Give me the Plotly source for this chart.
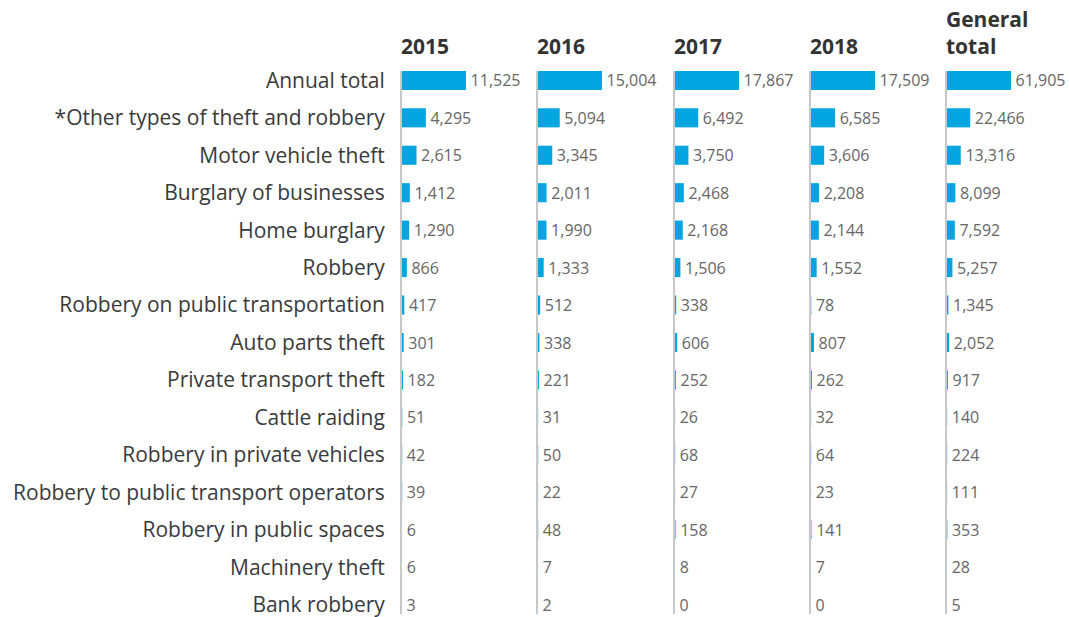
import plotly.graph_objects as go
from plotly.subplots import make_subplots

categories = [
    "Annual total",
    "*Other types of theft and robbery",
    "Motor vehicle theft",
    "Burglary of businesses",
    "Home burglary",
    "Robbery",
    "Robbery on public transportation",
    "Auto parts theft",
    "Private transport theft",
    "Cattle raiding",
    "Robbery in private vehicles",
    "Robbery to public transport operators",
    "Robbery in public spaces",
    "Machinery theft",
    "Bank robbery",
]

columns = ["2015", "2016", "2017", "2018", "General<br>total"]

v2015 = [11525, 4295, 2615, 1412, 1290, 866, 417, 301, 182, 51, 42, 39, 6, 6, 3]
v2016 = [15004, 5094, 3345, 2011, 1990, 1333, 512, 338, 221, 31, 50, 22, 48, 7, 2]
v2017 = [17867, 6492, 3750, 2468, 2168, 1506, 338, 606, 252, 26, 68, 27, 158, 8, 0]
v2018 = [17509, 6585, 3606, 2208, 2144, 1552, 78, 807, 262, 32, 64, 23, 141, 7, 0]
vtotal = [61905, 22466, 13316, 8099, 7592, 5257, 1345, 2052, 917, 140, 224, 111, 353, 28, 5]

series = [v2015, v2016, v2017, v2018, vtotal]

W, H = 1070, 617
col_starts = [402, 538, 675, 811, 947]
col_w = 120
max_bar_px = 64
y_top_px, y_bot_px = 71, 614

BAR = "rgba(0,166,224,0.995)"
LABEL = "#3a3a3a"
VAL = "#666666"
FONT = "Open Sans, Noto Sans, sans-serif"

fig = make_subplots(rows=1, cols=5)

for i, vals in enumerate(series):
    fig.add_trace(
        go.Bar(
            x=vals,
            y=categories,
            orientation="h",
            marker=dict(color=BAR, line=dict(width=0)),
            text=[f"\u200a{v:,}" for v in vals],
            textposition="outside",
            constraintext="none",
            cliponaxis=False,
            textfont=dict(size=16, color=VAL, family=FONT),
            hoverinfo="skip",
            showlegend=False,
        ),
        row=1,
        col=i + 1,
    )

ydom = [(H - y_bot_px) / H, (H - y_top_px) / H]
n = len(categories)

for i, vals in enumerate(series):
    s = col_starts[i]
    xa = "xaxis" if i == 0 else f"xaxis{i+1}"
    ya = "yaxis" if i == 0 else f"yaxis{i+1}"
    fig.layout[xa].update(
        domain=[s / W, (s + col_w) / W],
        range=[0, max(vals) * col_w / max_bar_px],
        visible=False,
        automargin=False,
        fixedrange=True,
    )
    fig.layout[ya].update(
        domain=ydom,
        categoryorder="array",
        categoryarray=categories,
        range=[n - 1 + 0.25, -0.25],
        autorange=False,
        automargin=False,
        showline=True,
        linecolor="#c8c8c8",
        linewidth=2,
        showgrid=False,
        zeroline=False,
        ticks="",
        showticklabels=(i == 0),
        ticklabelstandoff=11,
        tickfont=dict(size=21, color=LABEL, family=FONT),
        fixedrange=True,
    )
    fig.add_annotation(
        text=f"<b>{columns[i]}</b>",
        xref=f"x{'' if i == 0 else i+1} domain",
        x=0,
        xanchor="left",
        yref="paper",
        y=(H - 62) / H,
        yanchor="bottom",
        align="left",
        showarrow=False,
        xshift=-3,
        font=dict(size=21, color="#333333", family=FONT),
    )

fig.update_layout(
    width=W,
    height=H,
    margin=dict(l=0, r=0, t=0, b=0, autoexpand=False),
    paper_bgcolor="white",
    plot_bgcolor="white",
    bargap=0.49,
    font=dict(family=FONT),
)

fig.write_html(
    "out.html",
    include_plotlyjs=True,
    config={"displayModeBar": False},
    post_script="document.documentElement.style.margin='0';document.body.style.margin='0';"
                "document.documentElement.style.overflow='hidden';document.body.style.overflow='hidden';",
)
